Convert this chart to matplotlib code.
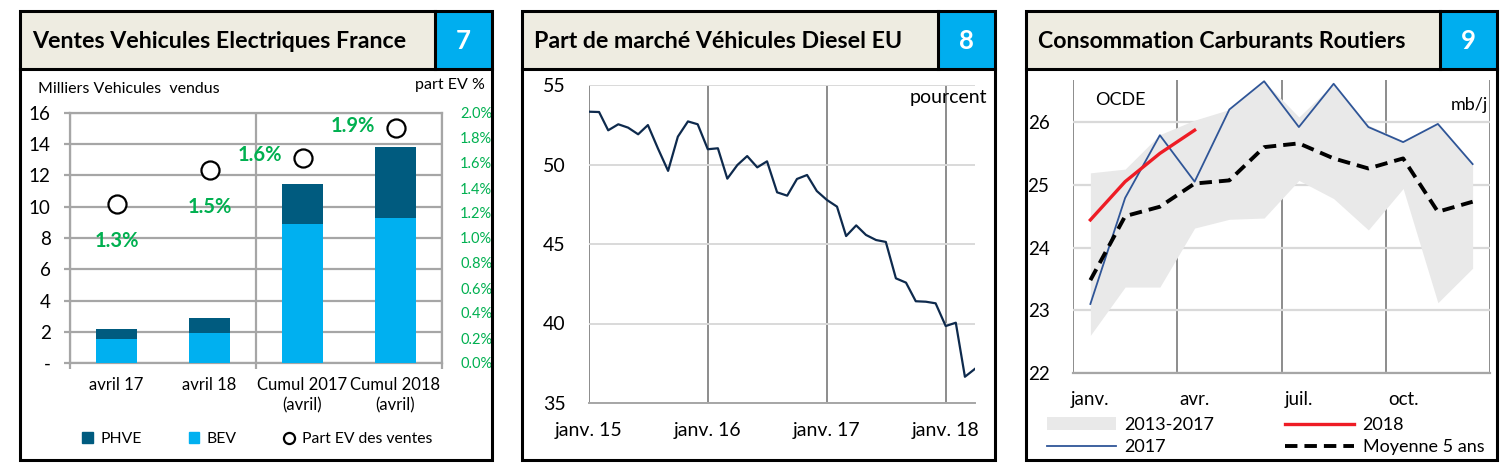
"""Three Excel-style dashboard panels (7, 8, 9): EV sales France, diesel share EU, road fuel demand."""

import matplotlib
matplotlib.use("Agg")
import matplotlib.pyplot as plt
import matplotlib.ticker as mticker
from matplotlib.patches import Rectangle, Patch
from matplotlib.lines import Line2D
import pandas as pd

plt.rcParams["font.family"] = ["Lato", "DejaVu Sans"]

W, H = 1509, 472

# ---- panel 7 : ventes VE France
ev_cats = ["avril 17", "avril 18", "Cumul 2017\n(avril)", "Cumul 2018\n(avril)"]
ev_bev = [1.55, 1.9, 8.9, 9.25]
ev_phve = [0.6, 0.95, 2.55, 4.55]
ev_share = [1.27, 1.54, 1.64, 1.88]          # part EV des ventes, %

# ---- panel 8 : part de marche diesel EU (mensuel, janv. 2015 -> avr. 2018)
diesel_share = [53.32, 53.30, 52.15, 52.53, 52.32, 51.9, 52.48, 51.0, 49.6, 51.75, 52.71, 52.53,
                50.96, 51.02, 49.11, 49.97, 50.53, 49.82, 50.2, 48.25, 48.04, 49.09, 49.34, 48.33,
                47.77, 47.35, 45.5, 46.17, 45.57, 45.25, 45.13, 42.84, 42.57, 41.4, 41.37, 41.27,
                39.84, 40.05, 36.65, 37.15]
diesel_dates = pd.date_range("2015-01-01", periods=len(diesel_share), freq="MS")

# ---- panel 9 : consommation carburants routiers OCDE, mb/j
months = ["janv.", "févr.", "mars", "avr.", "mai", "juin", "juil.", "août", "sept.", "oct.", "nov.", "déc."]
band_low = [22.6, 23.37, 23.37, 24.31, 24.45, 24.47, 25.07, 24.78, 24.28, 24.94, 23.12, 23.67]
band_high = [25.19, 25.25, 25.8, 26.03, 26.2, 26.65, 26.08, 26.61, 25.95, 25.7, 25.97, 25.33]
fuel_2017 = [23.1, 24.79, 25.79, 25.05, 26.2, 26.65, 25.92, 26.61, 25.92, 25.68, 25.97, 25.33]
fuel_2018 = [24.44, 25.05, 25.5, 25.87]
fuel_avg5 = [23.48, 24.5, 24.65, 25.02, 25.07, 25.6, 25.66, 25.42, 25.26, 25.42, 24.57, 24.73]

BEIGE = "#EEECE1"
BLUE_BOX = "#00AEEF"
GREEN = "#00B050"


def fx(px):
    return px / W


def fy(py):
    return 1 - py / H


def add_ax(fig, l, t, r, b):
    return fig.add_axes([l / W, 1 - b / H, (r - l) / W, (b - t) / H])


def frame(fig, l, r, num_l, title, num, top=11, bar_b=69, bottom=460):
    tf = fig.transFigure
    fig.add_artist(Rectangle((fx(l), fy(bar_b)), fx(num_l - l), fy(top) - fy(bar_b),
                             transform=tf, facecolor=BEIGE, edgecolor="none"))
    fig.add_artist(Rectangle((fx(num_l), fy(bar_b)), fx(r - num_l), fy(top) - fy(bar_b),
                             transform=tf, facecolor=BLUE_BOX, edgecolor="none"))
    fig.add_artist(Rectangle((fx(l), fy(bottom)), fx(r - l), fy(top) - fy(bottom),
                             transform=tf, facecolor="none", edgecolor="black", lw=2.2))
    fig.add_artist(Line2D([fx(l), fx(r)], [fy(bar_b)] * 2, transform=tf, color="black", lw=2.2))
    fig.add_artist(Line2D([fx(num_l)] * 2, [fy(top), fy(bar_b)], transform=tf, color="black", lw=2.2))
    fig.text(fx(l + 12), fy((top + bar_b) / 2 + 1), title, fontsize=16.7, fontweight="bold",
             va="center", ha="left")
    fig.text(fx((num_l + r) / 2), fy((top + bar_b) / 2 + 1), num, fontsize=18.5, fontweight="bold",
             color="white", va="center", ha="center")


fig = plt.figure(figsize=(W / 100, H / 100), dpi=100)
fig.patch.set_facecolor("white")

frame(fig, 20, 492, 435, "Ventes Vehicules Electriques France", "7")
frame(fig, 522, 995, 938, "Part de marché Véhicules Diesel EU", "8")
frame(fig, 1026, 1497, 1440, "Consommation Carburants Routiers", "9")

# ================= panel 7
GRID1 = "#A6A6A6"
ax1 = add_ax(fig, 70, 113, 442, 363)
x = range(len(ev_cats))
ax1.bar(x, ev_bev, width=0.45, color="#00B0F0", zorder=3)
ax1.bar(x, ev_phve, width=0.45, bottom=ev_bev, color="#005B7F", zorder=3)
ax1.set_xlim(-0.5, 3.5)
ax1.set_ylim(0, 16)
ax1.set_yticks(range(0, 17, 2))
ax1.yaxis.set_major_formatter(mticker.FuncFormatter(lambda v, p: "-" if v == 0 else f"{v:.0f}"))
ax1.set_xticks(list(x))
ax1.set_xticklabels(ev_cats, fontsize=12, multialignment="center", linespacing=1.35)
ax1.set_xticks([-0.5, 1.5, 3.5], minor=True)
ax1.grid(axis="y", color=GRID1, lw=1.6, zorder=0)
ax1.grid(axis="x", which="minor", color=GRID1, lw=1.6, zorder=0)
ax1.tick_params(axis="x", which="major", length=0, pad=10)
ax1.tick_params(axis="x", which="minor", length=4, width=1.6, color=GRID1)
ax1.tick_params(axis="y", length=4, width=1.6, color=GRID1, labelsize=13.5, pad=10)
for s in ax1.spines.values():
    s.set_color(GRID1)
    s.set_linewidth(1.6)
ax1.set_axisbelow(True)

ax1r = ax1.twinx()
ax1r.set_ylim(0, 2.0)
ax1r.set_yticks([i / 5 for i in range(11)])
ax1r.yaxis.set_major_formatter(mticker.FuncFormatter(lambda v, p: f"{v:.1f}%"))
ax1r.tick_params(axis="y", length=0, labelsize=10.5, labelcolor=GREEN, pad=13)
for s in ax1r.spines.values():
    s.set_visible(False)
ax1r.plot(list(x), ev_share, ls="none", marker="o", ms=13, mfc="white", mec="black", mew=1.6, zorder=5)
offsets = [(0, -37), (0, -37), (-43, 3), (-43, 2)]
for xi, v, off in zip(x, ev_share, offsets):
    ax1r.annotate(f"{v:.1f}%", (xi, v), xytext=off, textcoords="offset pixels",
                  ha="center", va="center", color=GREEN, fontsize=14.5, fontweight="bold")

fig.text(fx(38), fy(89), "Milliers Vehicules  vendus", fontsize=11.5, va="center", ha="left")
fig.text(fx(485), fy(85), "part EV %", fontsize=11.5, va="center", ha="right")
h1 = [Patch(color="#005B7F"), Patch(color="#00B0F0"),
      Line2D([], [], ls="none", marker="o", ms=8, mfc="white", mec="black", mew=1.6)]
fig.legend(h1, ["PHVE", "BEV", "Part EV des ventes"], ncol=3, loc="center left",
           bbox_to_anchor=(fx(82), fy(439)), frameon=False, fontsize=11.3,
           handlelength=0.7, handleheight=0.7, handletextpad=0.45, columnspacing=3.0,
           borderaxespad=0, borderpad=0)

# ================= panel 8
ax2 = add_ax(fig, 589, 85, 975, 403)
ax2.plot(diesel_dates, diesel_share, color="#0E2A4D", lw=1.6, zorder=3)
ax2.set_xlim(diesel_dates[0], diesel_dates[-1])
ax2.set_ylim(35, 55)
ax2.set_yticks(range(35, 56, 5))
jan_ticks = [d for d in diesel_dates if d.month == 1]
ax2.set_xticks(jan_ticks)
ax2.set_xticklabels([f"janv. {d:%y}" for d in jan_ticks])
ax2.grid(axis="y", color="#D9D9D9", lw=1.4, zorder=0)
ax2.grid(axis="x", color="#8C8C8C", lw=1.4, zorder=1)
ax2.tick_params(length=0, labelsize=14)
ax2.tick_params(axis="y", pad=17)
ax2.tick_params(axis="x", pad=14)
for k, s in ax2.spines.items():
    s.set_visible(k == "bottom")
ax2.spines["bottom"].set_color("#A6A6A6")
ax2.spines["bottom"].set_linewidth(1.4)
fig.text(fx(987), fy(98), "pourcent", fontsize=14, va="center", ha="right")

# ================= panel 9
ax3 = add_ax(fig, 1073, 80, 1490, 373)
m = list(range(len(months)))
ax3.fill_between(m, band_low, band_high, color="#E9E9E9", lw=0, zorder=1, label="2013-2017")
ax3.plot(m, fuel_2017, color="#2F5597", lw=1.3, zorder=3, label="2017")
ax3.plot(range(len(fuel_2018)), fuel_2018, color="#EE1C25", lw=2.4, zorder=4, label="2018")
ax3.plot(m, fuel_avg5, color="black", lw=2.8, ls=(0, (3.2, 1.8)), zorder=5, label="Moyenne 5 ans")
ax3.set_xlim(-0.5, 11.5)
ax3.set_ylim(22, 26.67)
ax3.set_yticks(range(22, 27))
ax3.set_xticks(m[::3])
ax3.set_xticklabels(months[::3])
ax3.set_xticks([-0.5, 2.5, 5.5, 8.5, 11.5], minor=True)
ax3.grid(axis="y", color="#D9D9D9", lw=1.6, zorder=0)
ax3.grid(axis="x", which="minor", color="#8C8C8C", lw=1.4, zorder=2)
ax3.tick_params(which="both", length=0, labelsize=13.5)
ax3.tick_params(axis="y", pad=17)
ax3.tick_params(axis="x", pad=13)
for k, s in ax3.spines.items():
    s.set_visible(k == "bottom")
ax3.spines["bottom"].set_color("#A6A6A6")
ax3.spines["bottom"].set_linewidth(1.6)
ax3.set_axisbelow(True)
fig.text(fx(1095), fy(100), "OCDE", fontsize=13, va="center", ha="left")
fig.text(fx(1488), fy(105), "mb/j", fontsize=13, va="center", ha="right")
h3, l3 = ax3.get_legend_handles_labels()
fig.legend(h3, l3, ncol=2, loc="center left",
           bbox_to_anchor=(fx(1047), fy(436)), frameon=False, fontsize=13,
           handlelength=3.8, handletextpad=0.5, columnspacing=3.9, labelspacing=0.35,
           borderaxespad=0, borderpad=0)

fig.savefig("out.png", dpi=100)
